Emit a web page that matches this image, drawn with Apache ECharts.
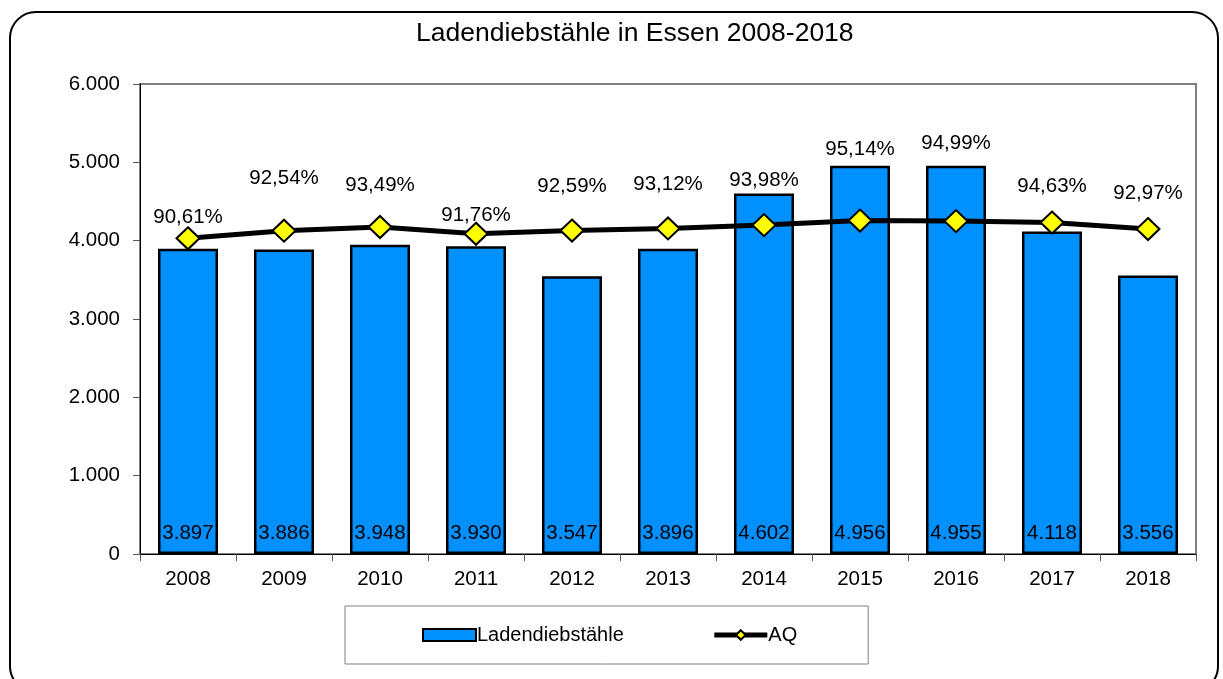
<!DOCTYPE html>
<html>
<head>
<meta charset="utf-8">
<script src="https://cdn.jsdelivr.net/npm/echarts@6/dist/echarts.min.js"></script>
<style>
  html, body { margin: 0; padding: 0; background: #fff; }
  #chart { width: 1223px; height: 679px; }
</style>
</head>
<body>
<div id="chart"></div>
<script>
// Daten
var jahre = ['2008', '2009', '2010', '2011', '2012', '2013', '2014', '2015', '2016', '2017', '2018'];
var ladendiebstaehle = [3897, 3886, 3948, 3930, 3547, 3896, 4602, 4956, 4955, 4118, 3556];
var aq = [90.61, 92.54, 93.49, 91.76, 92.59, 93.12, 93.98, 95.14, 94.99, 94.63, 92.97];
var yTicks = [0, 1000, 2000, 3000, 4000, 5000, 6000];

// Beschriftungs-Abstand der AQ-Werte (nur Layout)
var aqLabelLift = [21, 52, 42, 18, 44, 44, 45, 71, 78, 36, 36];

var schrift = 'Liberation Sans, Arial, sans-serif';

function tausender(v) {
  return String(v).replace(/\B(?=(\d{3})+(?!\d))/g, '.');
}

var aqData = aq.map(function (v, i) {
  return {
    value: v,
    label: { offset: [0, -aqLabelLift[i]] }
  };
});

var chart = echarts.init(document.getElementById('chart'));
chart.setOption({
  animation: false,
  textStyle: { fontFamily: schrift },
  graphic: [{
    type: 'rect',
    shape: { x: 10, y: 12, width: 1208, height: 680, r: 26 },
    style: { fill: 'none', stroke: '#000', lineWidth: 2 },
    z: -1
  }],
  title: {
    text: 'Ladendiebstähle in Essen 2008-2018',
    left: 416,
    top: 20,
    padding: 0,
    textStyle: { fontFamily: schrift, fontSize: 26.5, fontWeight: 'normal', color: '#000' }
  },
  legend: {
    left: 345,
    top: 606,
    padding: [19, 71, 19, 77],
    borderColor: '#808080',
    borderWidth: 1,
    itemGap: 88,
    itemWidth: 53,
    itemHeight: 12,
    textStyle: { fontFamily: schrift, fontSize: 20, color: '#000', padding: [0, 0, 0, -4] },
    data: [
      { name: 'Ladendiebstähle', icon: 'rect' },
      { name: 'AQ', lineStyle: { width: 5 } }
    ]
  },
  grid: {
    left: 140,
    right: 27,
    top: 84,
    bottom: 125,
    show: true,
    borderColor: '#808080',
    borderWidth: 2,
    containLabel: false
  },
  xAxis: {
    type: 'category',
    data: jahre,
    boundaryGap: true,
    axisLine: { lineStyle: { color: '#000', width: 1 } },
    axisTick: { show: true, length: 7, lineStyle: { color: '#555' } },
    axisLabel: { color: '#000', fontSize: 20.5, margin: 15 }
  },
  yAxis: [{
    type: 'value',
    min: yTicks[0],
    max: yTicks[yTicks.length - 1],
    interval: 1000,
    axisLine: { show: true, lineStyle: { color: '#000', width: 1 } },
    axisTick: { show: true, length: 7, lineStyle: { color: '#555' } },
    splitLine: { show: false },
    axisLabel: {
      color: '#000',
      fontSize: 20.5,
      margin: 20,
      formatter: function (v) { return tausender(v); }
    }
  }, {
    type: 'value',
    min: 10,
    max: 130,
    show: false,
    splitLine: { show: false }
  }],
  series: [{
    name: 'Ladendiebstähle',
    type: 'bar',
    data: ladendiebstaehle,
    barWidth: 60,
    itemStyle: { color: '#0090FF', borderColor: '#000', borderWidth: 2.5 },
    label: {
      show: true,
      position: 'insideBottom',
      distance: 10,
      color: '#000',
      fontSize: 20.5,
      formatter: function (p) { return tausender(p.value); }
    }
  }, {
    name: 'AQ',
    type: 'line',
    yAxisIndex: 1,
    data: aqData,
    symbol: 'diamond',
    symbolSize: [23, 22],
    lineStyle: { color: '#000', width: 5 },
    itemStyle: { color: '#FFFF00', borderColor: '#000', borderWidth: 2 },
    label: {
      show: true,
      position: 'inside',
      color: '#000',
      fontSize: 20.5,
      formatter: function (p) { return p.value.toFixed(2).replace('.', ',') + '%'; }
    },
    z: 5
  }]
});
</script>
</body>
</html>
